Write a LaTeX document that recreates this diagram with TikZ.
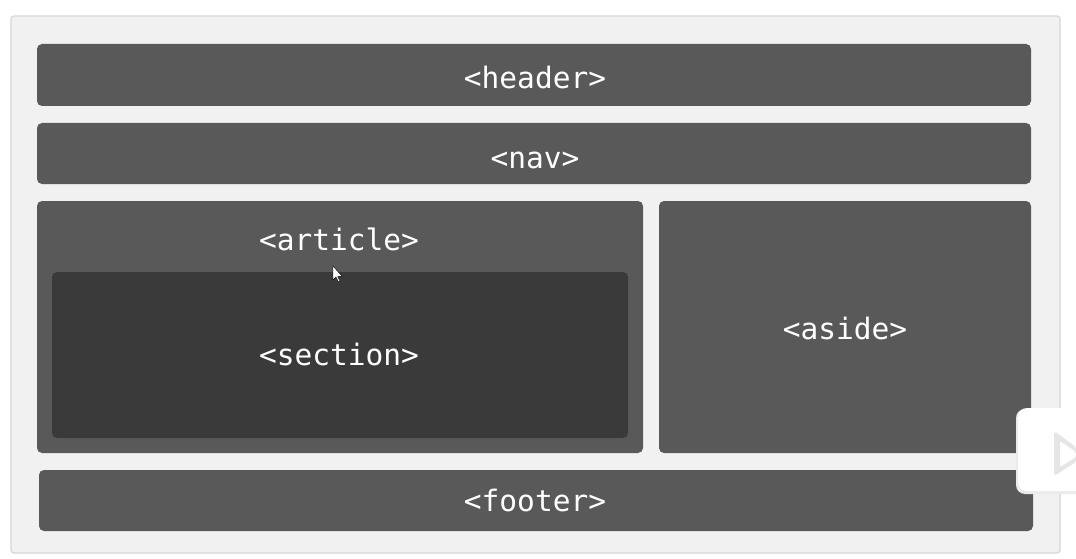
\documentclass[tikz,border=0pt]{standalone}
\usepackage{fontspec}
\setmonofont{DejaVu Sans Mono}
\begin{document}
\begin{tikzpicture}[x=1pt,y=-1pt,
  blk/.style={fill=boxgray,rounded corners=5pt,draw=none},
  lbl/.style={text=white,font=\ttfamily\fontsize{29.5}{30}\selectfont,anchor=base,inner sep=0pt}]
\definecolor{boxgray}{HTML}{595959}
\definecolor{secgray}{HTML}{3A3A3A}
\definecolor{panel}{HTML}{F1F1F1}
\definecolor{panelline}{HTML}{D6D6D6}
\useasboundingbox (0,0) rectangle (1076,559);
\fill[white] (0,0) rectangle (1076,559);
% outer panel
\draw[panelline,fill=panel,line width=1.2pt,rounded corners=3pt] (11,16) rectangle (1060,553);
% boxes
\fill[blk] (37,44) rectangle (1031,106);
\fill[blk] (37,123) rectangle (1031,184);
\fill[blk] (37,201) rectangle (643,453);
\fill[secgray,rounded corners=5pt] (52,272) rectangle (628,438);
\fill[blk] (659,201) rectangle (1031,453);
\fill[blk] (39,470) rectangle (1033,531);
% labels
\node[lbl] (header) at (535,89) {<header>};
\node[lbl] (nav) at (535,168) {<nav>};
\node[lbl] (article) at (339,250) {<article>};
\node[lbl] (section) at (339,365) {<section>};
\node[lbl] (aside) at (845,339) {<aside>};
\node[lbl] (footer) at (535,511) {<footer>};
% cursor
\fill[white,draw=black,line width=0.4pt] (333,266) -- (333,280) -- (336,277) -- (338.5,282) -- (340,281.3) -- (337.7,276.5) -- (342,276.3) -- cycle;
% side widget (partly visible)
\fill[black!8,rounded corners=9pt] (1016,409) rectangle (1090,494);
\fill[white,rounded corners=9pt] (1018,408) rectangle (1090,491);
\fill[black!10,rounded corners=3pt] (1054,431) -- (1076,447) -- (1076,462) -- (1054,476) -- cycle;
\fill[white,rounded corners=2pt] (1060,441) -- (1076,452) -- (1076,457) -- (1060,467) -- cycle;
\end{tikzpicture}
\end{document}
